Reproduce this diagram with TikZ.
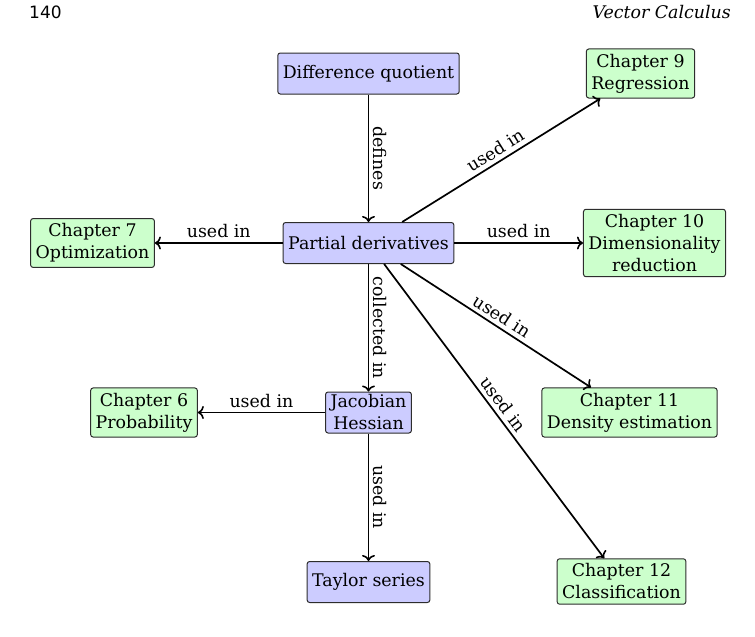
\documentclass[tikz,border=0pt]{standalone}
\usepackage{fontspec}
\setmainfont{DejaVu Serif}
\setsansfont{DejaVu Sans}
\usetikzlibrary{arrows.meta}
\definecolor{conceptfill}{RGB}{204,204,255}
\definecolor{chapterfill}{RGB}{204,255,204}
\definecolor{boxline}{RGB}{45,45,45}
\begin{document}
\begin{tikzpicture}[x=1pt,y=-1pt,
  every node/.style={font=\fontsize{17.4}{22}\selectfont},
  basebox/.style={draw=boxline, line width=1pt, rounded corners=2.5pt,
    align=center, inner xsep=5pt},
  concept/.style={basebox, fill=conceptfill, minimum height=41pt, inner ysep=2pt},
  chapter/.style={basebox, fill=chapterfill, inner ysep=5pt},
  link/.style={-{Computer Modern Rightarrow[length=6pt,width=13pt,line width=1.6pt]}, line width=1.7pt},
  lbl/.style={midway, above, sloped, inner sep=4pt}]
\useasboundingbox (0,0) rectangle (755,637);

% running head
\node[anchor=west, font=\sffamily\fontsize{17}{20}\selectfont, inner sep=0] (pagenum) at (29,12) {140};
\node[anchor=east, font=\itshape\fontsize{17.4}{20}\selectfont, inner sep=0] (runhead) at (731,12) {Vector Calculus};

% central chain of concepts
\node[concept] (dq) at (368.5,73.5) {Difference quotient};
\node[concept] (pd) at (368.5,243) {Partial derivatives};
\node[concept] (jh) at (368.5,412.5) {Jacobian\\Hessian};
\node[concept] (ts) at (368.5,582) {Taylor series};

% chapters where the concepts are used
\node[chapter] (c9)  at (640.5,73.5) {Chapter 9\\Regression};
\node[chapter] (c7)  at (92.5,243)   {Chapter 7\\Optimization};
\node[chapter] (c10) at (654.5,243)  {Chapter 10\\Dimensionality\\reduction};
\node[chapter] (c6)  at (144,412.5)  {Chapter 6\\Probability};
\node[chapter] (c11) at (629.5,412.5){Chapter 11\\Density estimation};
\node[chapter] (c12) at (621.5,581.5){Chapter 12\\Classification};

% connections
\draw[link] (dq) -- node[lbl] {defines} (pd);
\draw[link] (pd) -- node[lbl] {collected in} (jh);
\draw[link] (jh) -- node[lbl] {used in} (ts);
\draw[link] (pd) -- node[lbl] {used in} (c7);
\draw[link] (pd) -- node[lbl] {used in} (c10);
\draw[link] (pd) -- node[lbl] {used in} (c9);
\draw[link] (pd) -- node[lbl] {used in} (c11);
\draw[link] (pd) -- node[lbl] {used in} (c12);
\draw[link] (jh) -- node[lbl] {used in} (c6);
\end{tikzpicture}
\end{document}
